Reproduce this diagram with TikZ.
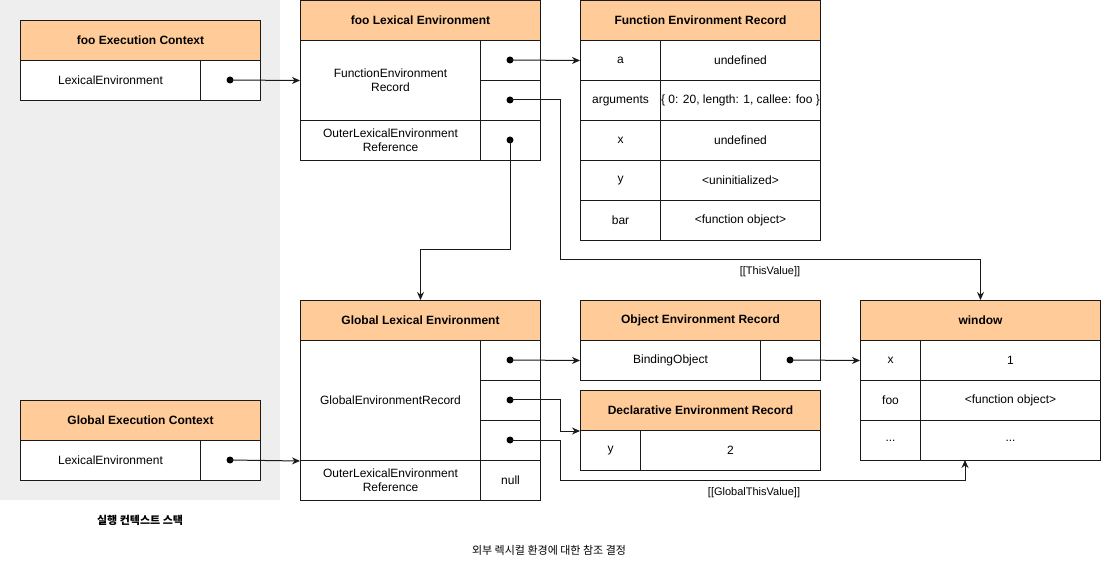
\documentclass[tikz,border=0pt]{standalone}
\usepackage{fontspec}
\setmainfont{Liberation Sans}
\newfontfamily\krfont{Noto Sans CJK KR}
\usetikzlibrary{arrows.meta}
\definecolor{hdr}{HTML}{FFCC99}
\definecolor{stackbg}{HTML}{EEEEEE}
\definecolor{edge}{HTML}{1A1A1A}
\begin{document}
\begin{tikzpicture}[x=1pt,y=-1pt,
  box/.style={draw=edge, line width=1pt, inner sep=0pt, anchor=north west, align=center,
    font=\fontsize{12}{14}\selectfont},
  hdrbox/.style={box, fill=hdr, font=\bfseries\fontsize{12}{14}\selectfont},
  celldot/.style={circle, fill=black, inner sep=0pt, minimum size=7pt},
  conn/.style={draw=edge, line width=1pt, -{Stealth[length=8pt,width=7pt]}},
  lbl/.style={font=\fontsize{11}{13}\selectfont, inner sep=0pt},
  krlbl/.style={font=\krfont\fontsize{11}{13}\selectfont, inner sep=0pt}
]
\useasboundingbox (0,0) rectangle (1101,561);
\node[fill=stackbg, minimum width=280pt, minimum height=500pt, anchor=north west, inner sep=0pt] (stack) at (0,0) {};

% foo Execution Context
\node[hdrbox, minimum width=240pt, minimum height=40pt] (fech) at (20,20) {foo Execution Context};
\node[box, fill=white, minimum width=180pt, minimum height=40pt] (fecl) at (20,60) {LexicalEnvironment};
\node[box, fill=white, minimum width=60pt, minimum height=40pt] (fecp) at (200,60) {};

% foo Lexical Environment
\node[hdrbox, minimum width=240pt, minimum height=40pt] (fleh) at (300,0) {foo Lexical Environment};
\node[box, minimum width=180pt, minimum height=80pt] (flef) at (300,40) {FunctionEnvironment\\Record};
\node[box, minimum width=60pt, minimum height=40pt] (flep1) at (480,40) {};
\node[box, minimum width=60pt, minimum height=40pt] (flep2) at (480,80) {};
\node[box, minimum width=180pt, minimum height=40pt] (fleo) at (300,120) {OuterLexicalEnvironment\\Reference};
\node[box, minimum width=60pt, minimum height=40pt] (flep3) at (480,120) {};

% Function Environment Record
\node[hdrbox, minimum width=240pt, minimum height=40pt] (ferh) at (580,0) {Function Environment Record};
\node[box, minimum width=80pt, minimum height=40pt] (ferk1) at (580,40) {a};
\node[box, minimum width=160pt, minimum height=40pt] (ferv1) at (660,40) {undefined};
\node[box, minimum width=80pt, minimum height=40pt] (ferk2) at (580,80) {arguments};
\node[box, minimum width=160pt, minimum height=40pt] (ferv2) at (660,80) {\{ 0: 20, length: 1, callee: foo \}};
\node[box, minimum width=80pt, minimum height=40pt] (ferk3) at (580,120) {x};
\node[box, minimum width=160pt, minimum height=40pt] (ferv3) at (660,120) {undefined};
\node[box, minimum width=80pt, minimum height=40pt] (ferk4) at (580,160) {y};
\node[box, minimum width=160pt, minimum height=40pt] (ferv4) at (660,160) {<uninitialized>};
\node[box, minimum width=80pt, minimum height=40pt] (ferk5) at (580,200) {bar};
\node[box, minimum width=160pt, minimum height=40pt] (ferv5) at (660,200) {<function object>};

% Global Lexical Environment
\node[hdrbox, minimum width=240pt, minimum height=40pt] (gleh) at (300,300) {Global Lexical Environment};
\node[box, minimum width=180pt, minimum height=120pt] (gleg) at (300,340) {GlobalEnvironmentRecord};
\node[box, minimum width=60pt, minimum height=40pt] (glep1) at (480,340) {};
\node[box, minimum width=60pt, minimum height=40pt] (glep2) at (480,380) {};
\node[box, minimum width=60pt, minimum height=40pt] (glep3) at (480,420) {};
\node[box, minimum width=180pt, minimum height=40pt] (gleo) at (300,460) {OuterLexicalEnvironment\\Reference};
\node[box, minimum width=60pt, minimum height=40pt] (glen) at (480,460) {null};

% Object Environment Record
\node[hdrbox, minimum width=240pt, minimum height=40pt] (oerh) at (580,300) {Object Environment Record};
\node[box, minimum width=180pt, minimum height=40pt] (oerb) at (580,340) {BindingObject};
\node[box, minimum width=60pt, minimum height=40pt] (oerp) at (760,340) {};

% Declarative Environment Record
\node[hdrbox, minimum width=240pt, minimum height=40pt] (derh) at (580,390) {Declarative Environment Record};
\node[box, minimum width=60pt, minimum height=40pt] (derk) at (580,430) {y};
\node[box, minimum width=180pt, minimum height=40pt] (derv) at (640,430) {2};

% window
\node[hdrbox, minimum width=240pt, minimum height=40pt] (winh) at (860,300) {window};
\node[box, minimum width=60pt, minimum height=40pt] (wink1) at (860,340) {x};
\node[box, minimum width=180pt, minimum height=40pt] (winv1) at (920,340) {1};
\node[box, minimum width=60pt, minimum height=40pt] (wink2) at (860,380) {foo};
\node[box, minimum width=180pt, minimum height=40pt] (winv2) at (920,380) {<function object>};
\node[box, minimum width=60pt, minimum height=40pt] (wink3) at (860,420) {...};
\node[box, minimum width=180pt, minimum height=40pt] (winv3) at (920,420) {...};

% Global Execution Context
\node[hdrbox, minimum width=240pt, minimum height=40pt] (gech) at (20,400) {Global Execution Context};
\node[box, fill=white, minimum width=180pt, minimum height=40pt] (gecl) at (20,440) {LexicalEnvironment};
\node[box, fill=white, minimum width=60pt, minimum height=40pt] (gecp) at (200,440) {};

% dots
\node[celldot] (d1) at (230,80) {};
\node[celldot] (d2) at (510,60) {};
\node[celldot] (d3) at (510,100) {};
\node[celldot] (d4) at (510,140) {};
\node[celldot] (d5) at (230,460) {};
\node[celldot] (d6) at (510,360) {};
\node[celldot] (d7) at (510,400) {};
\node[celldot] (d8) at (510,440) {};
\node[celldot] (d9) at (790,360) {};
\coordinate (gtv) at (965,460);

% connectors
\draw[conn] (d1.center) -- (flef.west);
\draw[conn] (d2.center) -- (ferk1.west);
\draw[conn] (d3.center) -- (560,100) -- (560,260) -| (winh.north);
\draw[conn] (d4.center) -- (510,250) -| (gleh.north);
\draw[conn] (d5.center) -- (gleg.south west);
\draw[conn] (d6.center) -- (oerb.west);
\draw[conn] (d7.center) -- (560,400) |- (derh.south west);
\draw[conn] (d8.center) -- (560,440) -- (560,480) -| (gtv);
\draw[conn] (d9.center) -- (wink1.west);

% labels
\node[lbl] (tv) at (770,271.5) {[[ThisValue]]};
\node[lbl] (gtvl) at (754,492.5) {[[GlobalThisValue]]};
\node[krlbl, font=\krfont\bfseries\fontsize{11}{13}\selectfont] (stacklbl) at (140,520) {실행 컨텍스트 스택};
\node[krlbl] (caption) at (549,550) {외부 렉시컬 환경에 대한 참조 결정};
\end{tikzpicture}
\end{document}
